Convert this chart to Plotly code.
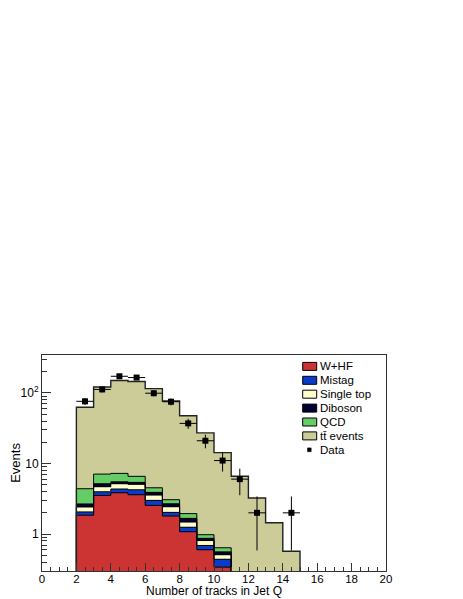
import numpy as np
import plotly.graph_objects as go

# ── histogram contents (bins of width 1, lower edges 2..14) ─────────
bin_lows = [2, 3, 4, 5, 6, 7, 8, 9, 10, 11, 12, 13, 14]

w_hf = [1.85, 3.53, 3.85, 3.61, 2.55, 1.80, 1.08, 0.60, 0.34, 0, 0, 0, 0]
mistag = [0.21, 0.45, 0.50, 0.64, 0.45, 0.23, 0.17, 0.09, 0.10, 0, 0, 0, 0]
single_top = [0.36, 0.71, 0.82, 0.81, 0.57, 0.41, 0.23, 0.12, 0.07, 0, 0, 0, 0]
diboson = [0.25, 0.48, 0.34, 0.34, 0.33, 0.25, 0.19, 0.06, 0.05, 0, 0, 0, 0]
qcd = [1.72, 1.91, 1.73, 1.18, 0.63, 0.38, 0.28, 0.11, 0.08, 0, 0, 0, 0]
ttbar = [58.3, 113.9, 142.8, 138.4, 110.5, 73.9, 45.4, 26.2, 13.6, 6.6, 3.24, 1.45, 0.57]

data_counts = [76, 112, 172, 165, 99, 75, 37, 21, 11, 6, 2, 0, 2]

x_ticks = [0, 2, 4, 6, 8, 10, 12, 14, 16, 18, 20]
y_ticks = [1, 10, 100]
y_ticktext = ["1", "10", "10<sup>2</sup>"]

# ── style ───────────────────────────────────────────────────────────
FONT = "Liberation Sans, Arial, sans-serif"
FRAME = "#333333"
components = [
    ("W+HF", w_hf, "#CC3333"),
    ("Mistag", mistag, "#0A3CCC"),
    ("Single top", single_top, "#FFFFCC"),
    ("Diboson", diboson, "#000033"),
    ("QCD", qcd, "#66CC66"),
    ("tt\u0304 events", ttbar, "#CCCC99"),
]

# page body adds an 8px offset; plot frame lands at x 42..386, y 355..571
W, H = 455, 591
M = dict(l=34, r=77, t=347, b=28)
PW = W - M["l"] - M["r"]
PH = H - M["t"] - M["b"]


def px_x(p):
    # window pixel -> paper fraction (x)
    return (p - 8 - M["l"]) / PW


def px_y(p):
    # window pixel -> paper fraction (y)
    return (H - M["b"] + 8 - p) / PH


lows = np.array(bin_lows, dtype=float)
centers = lows + 0.5
cum = np.cumsum(np.array([c[1] for c in components], dtype=float), axis=0)

fig = go.Figure()

# filled stack: draw cumulative totals from the largest down
for (name, _, color), level in reversed(list(zip(components, cum))):
    y = [v if v > 0 else None for v in level]
    fig.add_trace(go.Bar(
        x=centers, y=y, width=1.0, name=name,
        marker=dict(color=color, line=dict(width=0)),
        showlegend=False, hoverinfo="skip",
    ))

# histogram outlines (step lines) for every cumulative level
for i, level in enumerate(cum):
    n = int(np.max(np.nonzero(level > 0)))
    v = list(level[: n + 1])
    xs = [lows[0]] + list(lows[: n + 1]) + [lows[n] + 1, lows[n] + 1]
    ys = [1e-3] + v + [v[-1], 1e-3]
    top = i == len(cum) - 1
    fig.add_trace(go.Scatter(
        x=xs, y=ys, mode="lines", line_shape="hv",
        line=dict(color="#222222" if top else "black", width=1.4 if top else 1),
        showlegend=False, hoverinfo="skip",
    ))

# data points
d = np.array(data_counts, dtype=float)
fig.add_trace(go.Scatter(
    x=centers, y=[v if v > 0 else None for v in d],
    mode="markers", name="Data",
    marker=dict(symbol="square", size=6, color="black"),
    error_x=dict(type="constant", value=0.5, width=0, thickness=1, color="black"),
    error_y=dict(type="data", array=np.sqrt(d), width=0, thickness=1, color="black"),
    showlegend=False, hoverinfo="x+y",
))

# ── legend (ROOT style: compact boxes with black border) ────────────
row0, step = 366.4, 13.9
for k, (name, _, color) in enumerate(components):
    cy = row0 + k * step
    fig.add_shape(
        type="rect", xref="paper", yref="paper",
        x0=px_x(302.7), x1=px_x(316.7), y0=px_y(cy + 4), y1=px_y(cy - 4),
        fillcolor=color, line=dict(color="black", width=1),
    )
    fig.add_annotation(
        xref="paper", yref="paper", x=px_x(317.5), y=px_y(cy),
        text=name, showarrow=False, xanchor="left", yanchor="middle",
        font=dict(size=11.5),
    )
cy = row0 + len(components) * step
fig.add_shape(
    type="rect", xref="paper", yref="paper",
    x0=px_x(307.5), x1=px_x(311.2), y0=px_y(cy + 1.9), y1=px_y(cy - 1.9),
    fillcolor="black", line=dict(color="black", width=0.5),
)
fig.add_annotation(
    xref="paper", yref="paper", x=px_x(317.5), y=px_y(cy),
    text="Data", showarrow=False, xanchor="left", yanchor="middle",
    font=dict(size=11.5),
)

# x-axis title, set just under the tick labels as in the ROOT canvas
fig.add_annotation(
    xref="paper", yref="paper", x=0.5, y=px_y(599),
    text="Number of tracks in Jet Q", showarrow=False,
    xanchor="center", yanchor="bottom", borderpad=0,
    font=dict(size=12),
)

fig.update_layout(
    width=W, height=H,
    margin=M,
    paper_bgcolor="white", plot_bgcolor="white",
    barmode="overlay", bargap=0,
    font=dict(family=FONT, size=12, color="black"),
    showlegend=False,
    xaxis=dict(
        range=[0, 20], tickvals=x_ticks, ticks="inside", ticklen=8,
        tickcolor=FRAME, showline=True, linecolor=FRAME, linewidth=1,
        mirror=True, showgrid=False, zeroline=False,
        tickfont=dict(size=11.5), ticklabelstandoff=-3,
        minor=dict(dtick=0.5, ticks="inside", ticklen=4, tickcolor=FRAME, showgrid=False),
        automargin=False,
    ),
    yaxis=dict(
        type="log", range=[-0.523, 2.537],
        tickvals=y_ticks, ticktext=y_ticktext, ticks="inside", ticklen=9,
        tickcolor=FRAME, showline=True, linecolor=FRAME, linewidth=1,
        mirror=True, showgrid=False, zeroline=False,
        minor=dict(
            tickvals=[0.3, 0.4, 0.5, 0.6, 0.7, 0.8, 0.9, 2, 3, 4, 5, 6, 7, 8, 9,
                      20, 30, 40, 50, 60, 70, 80, 90, 200, 300],
            ticks="inside", ticklen=5, tickcolor=FRAME, showgrid=False,
        ),
        title=dict(text="Events", font=dict(size=13), standoff=6),
        automargin=False,
    ),
)

fig.write_html("out.html")
